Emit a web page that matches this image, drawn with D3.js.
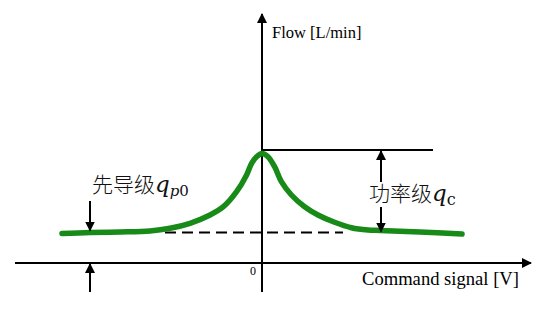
<!DOCTYPE html>
<html>
<head>
<meta charset="utf-8">
<script src="https://cdn.jsdelivr.net/npm/d3@7"></script>
<style>
  html, body { margin: 0; padding: 0; background: #fff; }
  svg { display: block; }
  .serif { font-family: 'Liberation Serif', 'Times New Roman', serif; }
</style>
</head>
<body>
<svg id="chart" width="556" height="312"></svg>
<script>
// ---- data ----
const commandSignal = [-10, -8.6, -7.1, -5.6, -4.6, -3.6, -2.6, -1.93, -1.27, -0.77, -0.52, -0.27, 0, 0.3, 0.63, 0.97, 1.47, 2.13, 2.8, 3.63, 4.47, 5.3, 5.9, 7.9, 10];
const flow =          [2.95, 3.05, 3.1, 3.2, 3.47, 3.97, 4.8, 5.63, 7.13, 8.8, 9.97, 10.63, 10.95, 10.63, 9.63, 8.13, 6.8, 5.63, 4.8, 4.07, 3.53, 3.3, 3.25, 3.1, 2.9];
const pilotFlow = 3.05;      // dashed reference level
const peakFlow = 11.3;       // top reference line
const pilotDashRange = [-4.85, 4.05];
const peakLineRange = [0, 8.55];
const axisLabels = ["Flow [L/min]", "Command signal [V]", "0"];
const pilotLabel = ["先导级", "q", "p", "0"];
const mainLabel = ["功率级", "q", "c"];

// ---- layout ----
const svg = d3.select("#chart");
const x = d3.scaleLinear().domain([-10, 10]).range([62, 462]);
const y = d3.scaleLinear().domain([0, 25]).range([263, 13]);

const defs = svg.append("defs");
defs.append("marker").attr("id", "arr").attr("viewBox", "0 0 10 10")
  .attr("refX", 9).attr("refY", 5).attr("markerWidth", 10).attr("markerHeight", 10)
  .attr("markerUnits", "userSpaceOnUse").attr("orient", "auto")
  .append("path").attr("d", "M0,0 L10,5 L0,10 Z").attr("fill", "#000");

// axes
const x0 = x(0), y0 = y(0);
svg.append("line").attr("x1", 15).attr("x2", 531).attr("y1", y0).attr("y2", y0)
  .attr("stroke", "#000").attr("stroke-width", 2).attr("marker-end", "url(#arr)");
svg.append("line").attr("x1", x0).attr("x2", x0).attr("y1", 292).attr("y2", 14)
  .attr("stroke", "#000").attr("stroke-width", 2).attr("marker-end", "url(#arr)");

// reference lines
svg.append("line").attr("x1", x(pilotDashRange[0])).attr("x2", x(pilotDashRange[1]))
  .attr("y1", y(pilotFlow)).attr("y2", y(pilotFlow))
  .attr("stroke", "#000").attr("stroke-width", 2).attr("stroke-dasharray", "11,6");
svg.append("line").attr("x1", x(peakLineRange[0])).attr("x2", x(peakLineRange[1]))
  .attr("y1", y(peakFlow)).attr("y2", y(peakFlow))
  .attr("stroke", "#000").attr("stroke-width", 2);

// curve
const line = d3.line().x((d, i) => x(commandSignal[i])).y(d => y(d)).curve(d3.curveCatmullRom.alpha(0.5));
svg.append("path").datum(flow).attr("d", line)
  .attr("fill", "none").attr("stroke", "#188a18").attr("stroke-width", 5.5)
  .attr("stroke-linecap", "round");

// dimension arrows
function arrow(xp, y1, y2) {
  svg.append("line").attr("x1", xp).attr("x2", xp).attr("y1", y1).attr("y2", y2)
    .attr("stroke", "#000").attr("stroke-width", 2).attr("marker-end", "url(#arr)");
}
const xr = 381;
arrow(xr, 182, y(peakFlow) + 1);
arrow(xr, 207, y(pilotFlow) - 1);
const xl = 90;
arrow(xl, 201, y(pilotFlow) - 2);
arrow(xl, 292, y0 + 1);

// text
svg.append("text").attr("class", "serif").attr("x", 272).attr("y", 38)
  .attr("font-size", 16.5).text(axisLabels[0]);
svg.append("text").attr("class", "serif").attr("x", 362).attr("y", 285)
  .attr("font-size", 18.6).text(axisLabels[1]);
svg.append("text").attr("class", "serif").attr("x", 250).attr("y", 275)
  .attr("font-size", 12).text(axisLabels[2]);

function mathLabel(xp, yp, parts) {
  const t = svg.append("text").attr("x", xp).attr("y", yp).attr("fill", "#111");
  t.append("tspan").attr("font-family", "'Noto Sans CJK SC', sans-serif").attr("font-size", 21)
    .attr("font-weight", 300).text(parts[0]);
  t.append("tspan").attr("font-family", "'DejaVu Serif', serif").attr("font-style", "italic")
    .attr("font-size", 23).attr("dx", 0).text(parts[1]);
  if (parts.length === 4) {
    t.append("tspan").attr("font-family", "'DejaVu Serif', serif").attr("font-style", "italic")
      .attr("font-size", 15).attr("dy", 4).text(parts[2]);
    t.append("tspan").attr("font-family", "'DejaVu Serif', serif")
      .attr("font-size", 15).text(parts[3]);
  } else {
    t.append("tspan").attr("font-family", "'DejaVu Serif', serif")
      .attr("font-size", 16).attr("dy", 4).text(parts[2]);
  }
}
mathLabel(92, 192, pilotLabel);
mathLabel(369, 201, mainLabel);
</script>
</body>
</html>
